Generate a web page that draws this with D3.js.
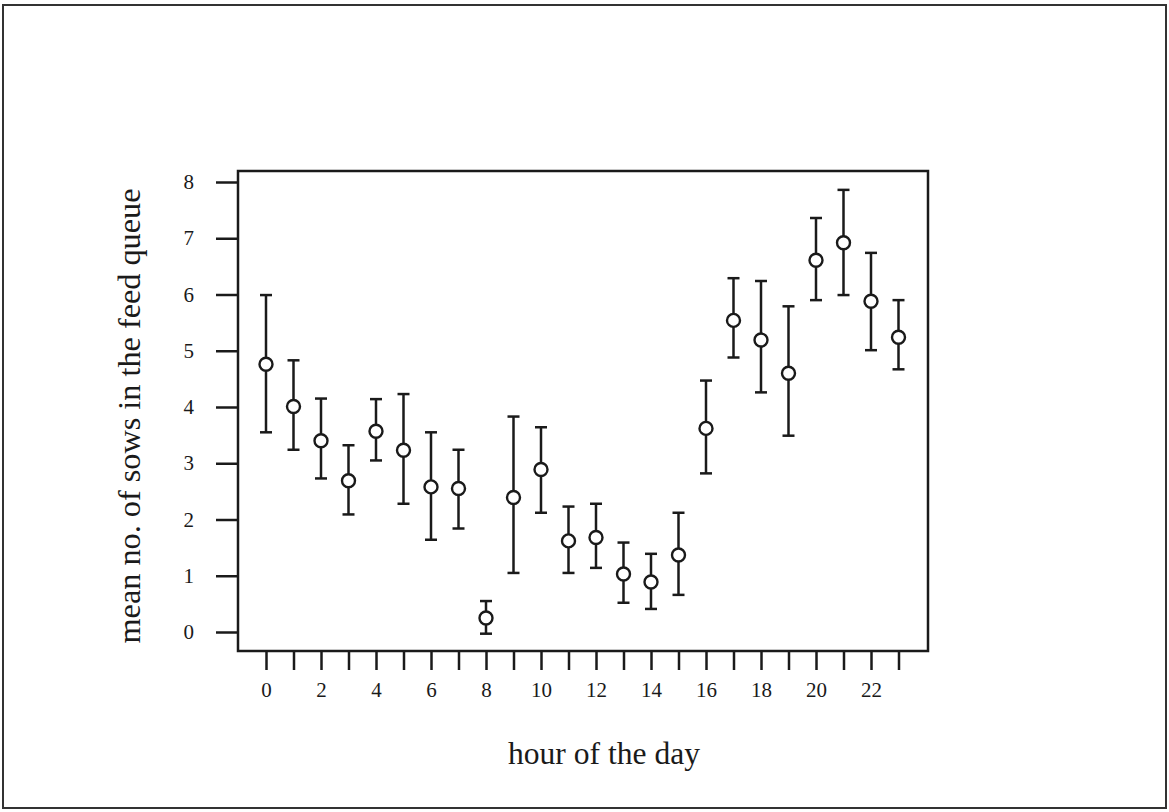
<!DOCTYPE html>
<html lang="en">
<head>
  <meta charset="UTF-8">
  <title>Mean number of sows in the feed queue by hour</title>
  <script src="https://d3js.org/d3.v7.min.js"></script>
  <style>
    body { margin: 0; background: #fff; }
    svg { display: block; }
    text { font-family: "Liberation Serif", "DejaVu Serif", serif; fill: #1a1a1a; }
  </style>
</head>
<body>
<svg width="1169" height="812"></svg>
<script>
  // values
  const hours = d3.range(0, 24);
  const means = [4.76, 4.01, 3.40, 2.69, 3.57, 3.23, 2.58, 2.55, 0.25, 2.39, 2.89, 1.62,
                 1.68, 1.03, 0.89, 1.37, 3.62, 5.54, 5.19, 4.60, 6.61, 6.92, 5.88, 5.24];
  const upper = [5.99, 4.83, 4.15, 3.32, 4.14, 4.23, 3.55, 3.24, 0.55, 3.83, 3.64, 2.23,
                 2.28, 1.59, 1.39, 2.12, 4.47, 6.29, 6.24, 5.79, 7.36, 7.86, 6.74, 5.90];
  const lower = [3.55, 3.24, 2.73, 2.09, 3.05, 2.28, 1.64, 1.84, -0.03, 1.05, 2.12, 1.05,
                 1.14, 0.52, 0.41, 0.66, 2.82, 4.88, 4.26, 3.49, 5.90, 5.99, 5.01, 4.67];
  const yTicks = [0, 1, 2, 3, 4, 5, 6, 7, 8];
  const xLabelTicks = [0, 2, 4, 6, 8, 10, 12, 14, 16, 18, 20, 22];

  const svg = d3.select("svg");
  const ink = "#1a1a1a";

  // outer frame
  svg.append("rect")
    .attr("x", 3).attr("y", 5).attr("width", 1163).attr("height", 803)
    .attr("fill", "none").attr("stroke", "#333").attr("stroke-width", 2);

  const frame = { left: 238, top: 171, right: 928, bottom: 651 };

  const x = d3.scaleLinear().domain([0, 22]).range([266, 871]);
  const y = d3.scaleLinear().domain([0, 8]).range([632, 182]);

  // plot box
  svg.append("rect")
    .attr("x", frame.left).attr("y", frame.top)
    .attr("width", frame.right - frame.left).attr("height", frame.bottom - frame.top)
    .attr("fill", "none").attr("stroke", ink).attr("stroke-width", 2.5);

  // y axis
  const yAxis = svg.append("g")
    .attr("transform", `translate(${frame.left},0)`)
    .call(d3.axisLeft(y).tickValues(yTicks).tickSize(22).tickPadding(22));
  yAxis.select(".domain").remove();
  yAxis.selectAll(".tick line").attr("stroke", ink).attr("stroke-width", 2.5);
  yAxis.selectAll(".tick text").attr("font-size", 21).attr("fill", ink)
    .attr("font-family", "Liberation Serif, serif");

  // x axis
  const xAxis = svg.append("g")
    .attr("transform", `translate(0,${frame.bottom})`)
    .call(d3.axisBottom(x).tickValues(hours).tickSize(19).tickPadding(12).tickFormat(""));
  xAxis.select(".domain").remove();
  xAxis.selectAll(".tick line").attr("stroke", ink).attr("stroke-width", 2.5);
  xAxis.selectAll(".tick")
    .filter(d => xLabelTicks.includes(d))
    .select("text")
    .text(d => d)
    .attr("font-size", 21).attr("fill", ink)
    .attr("font-family", "Liberation Serif, serif");

  // error bars
  const g = svg.append("g").attr("stroke", ink).attr("fill", "none").attr("stroke-width", 2.5);
  const capHalf = 6;
  hours.forEach((h, i) => {
    const cx = x(h);
    g.append("line").attr("x1", cx).attr("x2", cx).attr("y1", y(upper[i])).attr("y2", y(lower[i]));
    g.append("line").attr("x1", cx - capHalf).attr("x2", cx + capHalf).attr("y1", y(upper[i])).attr("y2", y(upper[i]));
    g.append("line").attr("x1", cx - capHalf).attr("x2", cx + capHalf).attr("y1", y(lower[i])).attr("y2", y(lower[i]));
    g.append("circle").attr("cx", cx).attr("cy", y(means[i])).attr("r", 6.5)
      .attr("fill", "#fff").attr("stroke-width", 2.4);
  });

  // axis titles
  svg.append("text")
    .attr("x", 604).attr("y", 764)
    .attr("text-anchor", "middle")
    .attr("font-size", 31)
    .attr("textLength", 192).attr("lengthAdjust", "spacingAndGlyphs")
    .text("hour of the day");

  svg.append("text")
    .attr("transform", "translate(140,416) rotate(-90)")
    .attr("text-anchor", "middle")
    .attr("font-size", 31)
    .attr("textLength", 455).attr("lengthAdjust", "spacingAndGlyphs")
    .text("mean no. of sows in the feed queue");
</script>
</body>
</html>
